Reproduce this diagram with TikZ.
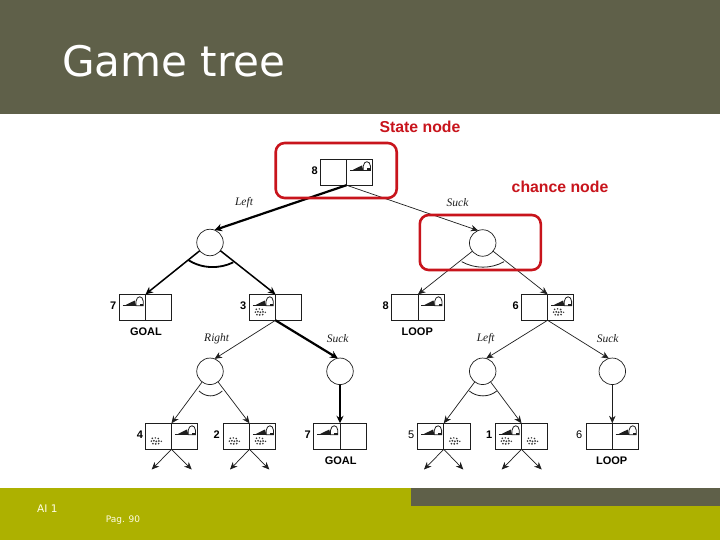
\documentclass[tikz,border=0pt]{standalone}
\usepackage{fontspec}
\setmainfont{Liberation Sans}
\newfontfamily\titlefont{DejaVu Sans}
\newfontfamily\edgefont{Liberation Serif}
\usetikzlibrary{arrows.meta}
\definecolor{hdr}{HTML}{5F6049}
\definecolor{oliv}{HTML}{ADB100}
\definecolor{redm}{HTML}{C8141C}
\definecolor{ink}{HTML}{1E1E1E}
\tikzset{
  stbox/.style={draw=ink,line width=0.7pt,minimum width=52.4pt,minimum height=26pt,inner sep=0pt,outer sep=0pt},
  chance/.style={circle,draw=ink,line width=0.7pt,minimum size=26.5pt,inner sep=0pt,outer sep=0pt},
  thinedge/.style={draw=ink,line width=0.7pt,-{Stealth[length=7.5pt,width=6.5pt]}},
  midedge/.style={draw=black,line width=1.5pt,-{Stealth[length=7.5pt,width=7pt]}},
  thickedge/.style={draw=black,line width=2.2pt,-{Stealth[length=7.5pt,width=7.5pt]}},
  arcthin/.style={draw=ink,line width=0.8pt},
  arcthick/.style={draw=black,line width=1.8pt},
  redbox/.style={draw=redm,line width=2.6pt,rounded corners=9pt,minimum width=121pt,minimum height=55pt,inner sep=0pt},
  redlabel/.style={text=redm,font=\bfseries\fontsize{15.8}{17}\selectfont,inner sep=0pt},
  edgelabel/.style={font=\edgefont\itshape\fontsize{11.5}{12}\selectfont,text=ink,inner sep=0pt},
  numlabel/.style={font=\bfseries\fontsize{11}{12}\selectfont,text=black,inner sep=0pt},
  numlight/.style={font=\fontsize{11}{12}\selectfont,text=black,inner sep=0pt},
  termlabel/.style={font=\bfseries\fontsize{11}{12}\selectfont,text=black,inner sep=0pt},
  footlabel/.style={font=\titlefont\fontsize{9}{10}\selectfont,text=white!90!yellow,inner sep=0pt},
  vac/.pic={
    \draw[line width=0.9pt,ink] (3.4,11) -- (16.5,11);
    \fill[ink] (6.5,10.6) -- (15.5,6.2) -- (16.8,11.4) -- cycle;
    \draw[line width=0.8pt,ink] (16.7,11.4) -- (16.7,7) .. controls (17.5,1) and (23.5,1) .. (24,7) -- (24,11.4) -- cycle;
    \fill[ink] (20.5,9.2) rectangle (24,11.8);
  },
  dirt/.pic={
    \fill[ink!90] (7,15) circle (0.9) (10,14.6) circle (0.8) (13,15.2) circle (0.9)
      (6,17.8) circle (0.9) (8.6,17.5) circle (1) (11,18) circle (1) (13.6,17.6) circle (1) (16,18) circle (0.8)
      (7.6,20.4) circle (0.9) (10.4,20.6) circle (1) (13.4,20.3) circle (0.9);
  }
}
\begin{document}
\begin{tikzpicture}[x=1pt,y=-1pt]
\useasboundingbox (0,0) rectangle (720,540);
\fill[white] (0,0) rectangle (720,540);
\fill[hdr] (0,0) rectangle (720,114);
\fill[oliv] (0,488) rectangle (720,540);
\fill[hdr] (411,488) rectangle (720,506);
\node[anchor=base west,inner sep=0pt,text=white,font=\titlefont\fontsize{42.1}{46}\selectfont] (title) at (62,77) {Game tree};

% boxes
\node[stbox] (r)  at (346.5,172.2) {};
\node[stbox] (b7) at (145.5,307.3) {};
\node[stbox] (b3) at (275.5,307.3) {};
\node[stbox] (b8) at (418,307.3) {};
\node[stbox] (b6) at (547.6,307.3) {};
\node[stbox] (d4) at (171.5,436.3) {};
\node[stbox] (d2) at (249.5,436.3) {};
\node[stbox] (d7) at (340,436.3) {};
\node[stbox] (d5) at (443.8,436.3) {};
\node[stbox] (d1) at (521.5,436.3) {};
\node[stbox] (d6) at (612.3,436.3) {};
\foreach \n in {r,b7,b3,b8,b6,d4,d2,d7,d5,d1,d6} \draw[ink,line width=0.7pt] (\n.north) -- (\n.south);

% chance nodes
\node[chance] (c1) at (210,242.5) {};
\node[chance] (c2) at (482.7,243) {};
\node[chance] (c3) at (210,371.3) {};
\node[chance] (c4) at (340,371.3) {};
\node[chance] (c5) at (482.7,371.3) {};
\node[chance] (c6) at (612.3,371.3) {};

% free ends
\coordinate (s1) at (151.7,469.5);
\coordinate (s2) at (191.7,469.5);
\coordinate (s3) at (230,469.5);
\coordinate (s4) at (269.3,469.5);
\coordinate (s5) at (424,469.5);
\coordinate (s6) at (463.3,469.5);
\coordinate (s7) at (501.7,469.5);
\coordinate (s8) at (541.7,469.5);

% connectors
\draw[thickedge] (r.south) -- (c1.70);
\draw[thinedge] (r.south) -- (c2.110);
\draw[midedge] (c1) -- (b7.north);
\draw[midedge] (c1) -- (b3.north);
\draw[thinedge] (c2) -- (b8.north);
\draw[thinedge] (c2) -- (b6.north);
\draw[thinedge] (b3.south) -- (c3.70);
\draw[thickedge] (b3.south) -- (c4.100);
\draw[thinedge] (b6.south) -- (c5.75);
\draw[thinedge] (b6.south) -- (c6.105);
\draw[thinedge] (c3) -- (d4.north);
\draw[thinedge] (c3) -- (d2.north);
\draw[midedge] (c4) -- (d7.north);
\draw[thinedge] (c5) -- (d5.north);
\draw[thinedge] (c5) -- (d1.north);
\draw[thinedge] (c6) -- (d6.north);
\foreach \a/\b in {d4/s1,d4/s2,d2/s3,d2/s4,d5/s5,d5/s6,d1/s7,d1/s8}
  \draw[thinedge] (\a.south) -- (\b);

% arcs
\draw[arcthick] (188.3,260) .. controls (202,269) and (220,269) .. (233.3,262.3);
\draw[arcthin] (461.7,261.7) .. controls (475,269) and (491,269) .. (504,261.7);
\draw[arcthin] (199,391) .. controls (206,397.5) and (215,397.5) .. (222.3,391);
\draw[arcthin] (469.3,391) .. controls (477,397.5) and (489,397.5) .. (496.7,391);

% state icons
\pic at (r.north) {vac};
\pic at (b7.north west) {vac};
\pic at (b3.north west) {vac};
\pic at (b3.north west) {dirt};
\pic at (b8.north) {vac};
\pic at (b6.north) {vac};
\pic at (b6.north) {dirt};
\pic at (d4.north west) {dirt};
\pic at (d4.north) {vac};
\pic at (d2.north west) {dirt};
\pic at (d2.north) {vac};
\pic at (d2.north) {dirt};
\pic at (d7.north west) {vac};
\pic at (d5.north west) {vac};
\pic at (d5.north) {dirt};
\pic at (d1.north west) {vac};
\pic at (d1.north west) {dirt};
\pic at (d1.north) {dirt};
\pic at (d6.north) {vac};

% red highlights
\node[redbox] (hl1) at (336.2,170.5) {};
\node[redbox] (hl2) at (480.3,242.5) {};
\node[redlabel] (statelbl) at (420,127) {State node};
\node[redlabel] (chancelbl) at (560,187) {chance node};

% edge labels
\node[edgelabel] (l1) at (244,203) {Left};
\node[edgelabel] (l2) at (457.5,203) {Suck};
\node[edgelabel] (l3) at (216.7,339) {Right};
\node[edgelabel] (l4) at (337.7,339) {Suck};
\node[edgelabel] (l5) at (485.7,339) {Left};
\node[edgelabel] (l6) at (607.7,339) {Suck};

% numbers
\node[numlabel] (n1) at (314.7,170.7) {8};
\node[numlabel] (n2) at (113.3,305.7) {7};
\node[numlabel] (n3) at (243.3,305.7) {3};
\node[numlabel] (n4) at (385.7,305.7) {8};
\node[numlabel] (n5) at (515.7,305.7) {6};
\node[numlabel] (n6) at (140,435) {4};
\node[numlabel] (n7) at (216.7,435) {2};
\node[numlabel] (n8) at (307.7,435) {7};
\node[numlight] (n9) at (411.3,435) {5};
\node[numlabel] (n10) at (489.3,435) {1};
\node[numlight] (n11) at (579.3,435) {6};

% terminal labels
\node[termlabel] (t1) at (146,331.7) {GOAL};
\node[termlabel] (t2) at (417.3,331.7) {LOOP};
\node[termlabel] (t3) at (340.7,460.7) {GOAL};
\node[termlabel] (t4) at (611.7,460.7) {LOOP};

% footer
\node[footlabel,font=\titlefont\fontsize{10.5}{11}\selectfont] (f1) at (47.3,508.5) {AI 1};
\node[footlabel] (f2) at (123,520.5) {Pag. 90};
\end{tikzpicture}
\end{document}
